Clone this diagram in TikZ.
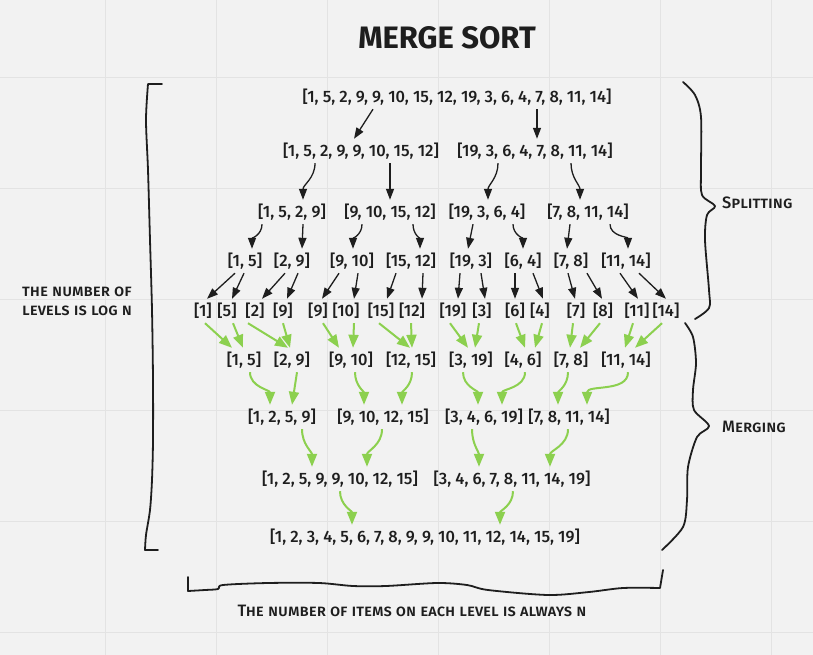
\documentclass[tikz,border=0pt]{standalone}
\usepackage{fontspec}
\setmainfont{Fira Sans}
\newfontfamily\listfont{Fira Sans Medium}
\usepackage{xcolor}
\usetikzlibrary{arrows.meta}

\definecolor{paper}{HTML}{F2F2F2}
\definecolor{gridc}{HTML}{E3E3E3}
\definecolor{ink}{HTML}{1E1E1E}
\definecolor{mgreen}{HTML}{8CD04F}

\begin{document}
\begin{tikzpicture}[x=1pt, y=1pt,
    lst/.style={font=\listfont\fontsize{16.5}{19}\selectfont, text=ink,
                inner sep=0pt, minimum height=24pt},
    lbl/.style={font=\listfont\fontsize{16.5}{19}\selectfont\scshape, text=ink, inner sep=0pt},
    arr/.style={-{Triangle[length=11pt,width=8pt]}, line width=1.3pt, draw=ink},
    garr/.style={-{Triangle[length=13pt,width=10pt]}, line width=2pt, draw=mgreen},
    brace/.style={line width=1.8pt, draw=ink, line cap=round, line join=round},
    gridln/.style={draw=gridc, line width=0.8pt},
  ]
    \useasboundingbox (0,0) rectangle (813,-655);
    \fill[paper] (0,0) rectangle (813,-655);
    \foreach \gx in {105,216,327,438,549,660,771}
      \draw[gridln] (\gx,0) -- (\gx,-655);
    \foreach \gy in {77,188,299,410,521,632}
      \draw[gridln] (0,-\gy) -- (813,-\gy);

    \node[font=\fontsize{31}{33}\selectfont\bfseries, text=ink] (title) at (447,-38) {MERGE SORT};

    % splitting
    \node[lst] (s0)  at (457,-97)  {[1, 5, 2, 9, 9, 10, 15, 12, 19, 3, 6, 4, 7, 8, 11, 14]};
    \node[lst] (s1a) at (361,-151) {[1, 5, 2, 9, 9, 10, 15, 12]};
    \node[lst] (s1b) at (535,-151) {[19, 3, 6, 4, 7, 8, 11, 14]};
    \node[lst] (s2a) at (292,-212) {[1, 5, 2, 9]};
    \node[lst] (s2b) at (390,-212) {[9, 10, 15, 12]};
    \node[lst] (s2c) at (487,-212) {[19, 3, 6, 4]};
    \node[lst] (s2d) at (588,-212) {[7, 8, 11, 14]};
    \node[lst] (s3a) at (245,-261) {[1, 5]};
    \node[lst] (s3b) at (292,-261) {[2, 9]};
    \node[lst] (s3c) at (352,-261) {[9, 10]};
    \node[lst] (s3d) at (411,-261) {[15, 12]};
    \node[lst] (s3e) at (471,-261) {[19, 3]};
    \node[lst] (s3f) at (523,-261) {[6, 4]};
    \node[lst] (s3g) at (571,-261) {[7, 8]};
    \node[lst] (s3h) at (626,-261) {[11, 14]};

    % single items
    \node[lst] (leaf1)  at (203,-311) {[1]};
    \node[lst] (leaf2)  at (227,-311) {[5]};
    \node[lst] (leaf3)  at (255,-311) {[2]};
    \node[lst] (leaf4)  at (283,-311) {[9]};
    \node[lst] (leaf5)  at (318,-311) {[9]};
    \node[lst] (leaf6)  at (346,-311) {[10]};
    \node[lst] (leaf7)  at (381,-311) {[15]};
    \node[lst] (leaf8)  at (412,-311) {[12]};
    \node[lst] (leaf9)  at (453,-311) {[19]};
    \node[lst] (leaf10) at (482,-311) {[3]};
    \node[lst] (leaf11) at (515,-311) {[6]};
    \node[lst] (leaf12) at (540,-311) {[4]};
    \node[lst] (leaf13) at (576,-311) {[7]};
    \node[lst] (leaf14) at (603,-311) {[8]};
    \node[lst] (leaf15) at (637,-311) {[11]};
    \node[lst] (leaf16) at (666,-311) {[14]};

    % merging
    \node[lst] (m1a) at (244,-360) {[1, 5]};
    \node[lst] (m1b) at (292,-360) {[2, 9]};
    \node[lst] (m1c) at (351,-360) {[9, 10]};
    \node[lst] (m1d) at (411,-360) {[12, 15]};
    \node[lst] (m1e) at (471,-360) {[3, 19]};
    \node[lst] (m1f) at (523,-360) {[4, 6]};
    \node[lst] (m1g) at (571,-360) {[7, 8]};
    \node[lst] (m1h) at (626,-360) {[11, 14]};
    \node[lst] (m2a) at (282,-417) {[1, 2, 5, 9]};
    \node[lst] (m2b) at (383,-417) {[9, 10, 12, 15]};
    \node[lst] (m2c) at (484,-417) {[3, 4, 6, 19]};
    \node[lst] (m2d) at (569,-417) {[7, 8, 11, 14]};
    \node[lst] (m3a) at (340,-479) {[1, 2, 5, 9, 9, 10, 12, 15]};
    \node[lst] (m3b) at (512,-479) {[3, 4, 6, 7, 8, 11, 14, 19]};
    \node[lst] (sorted) at (425,-537) {[1, 2, 3, 4, 5, 6, 7, 8, 9, 9, 10, 11, 12, 14, 15, 19]};

    % labels
    \node[lbl, anchor=west] (split) at (722,-203) {Splitting};
    \node[lbl, anchor=west] (merge) at (722,-427) {Merging};
    \node[lbl, anchor=west, align=left] (levels) at (22,-301) {the number of\\levels is log n};
    \node[lbl] (items) at (412,-611) {The number of items on each level is always n};

    % split arrows
    \draw[arr] ([xshift=-84]s0.south) -- ([xshift=-7]s1a.north);
    \draw[arr] ([xshift=80]s0.south) -- ([xshift=2]s1b.north);
    \draw[arr] ([xshift=-46]s1a.south) to[out=-90,in=90] ([xshift=11]s2a.north);
    \draw[arr] ([xshift=29]s1a.south) -- (s2b.north);
    \draw[arr] ([xshift=-37]s1b.south) to[out=-90,in=90] ([xshift=1]s2c.north);
    \draw[arr] ([xshift=36]s1b.south) to[out=-90,in=90] ([xshift=-8]s2d.north);
    \draw[arr] ([xshift=-30]s2a.south) to[out=-90,in=90] ([xshift=7]s3a.north);
    \draw[arr] ([xshift=11]s2a.south) -- ([xshift=10]s3b.north);
    \draw[arr] ([xshift=-28]s2b.south) to[out=-90,in=90] ([xshift=1]s3c.north);
    \draw[arr] ([xshift=23]s2b.south) to[out=-90,in=90] ([xshift=9]s3d.north);
    \draw[arr] ([xshift=-14]s2c.south) -- ([xshift=-3]s3e.north);
    \draw[arr] ([xshift=26]s2c.south) to[out=-90,in=90] (s3f.north);
    \draw[arr] ([xshift=-18]s2d.south) -- ([xshift=-4]s3g.north);
    \draw[arr] ([xshift=22]s2d.south) to[out=-90,in=90] ([xshift=2]s3h.north);
    \draw[arr] ([xshift=-10]s3a.south) -- ([xshift=4]leaf1.north);
    \draw[arr] ([xshift=-1]s3a.south) -- ([xshift=5]leaf2.north);
    \draw[arr] ([xshift=-7]s3b.south) -- ([xshift=7]leaf3.north);
    \draw[arr] ([xshift=6]s3b.south) -- ([xshift=4]leaf4.north);
    \draw[arr] ([xshift=-13]s3c.south) -- ([xshift=4]leaf5.north);
    \draw[arr] ([xshift=6]s3c.south) -- ([xshift=8]leaf6.north);
    \draw[arr] ([xshift=-15]s3d.south) -- ([xshift=6]leaf7.north);
    \draw[arr] ([xshift=12]s3d.south) -- ([xshift=10]leaf8.north);
    \draw[arr] ([xshift=-11]s3e.south) -- ([xshift=5]leaf9.north);
    \draw[arr] ([xshift=10]s3e.south) -- ([xshift=3]leaf10.north);
    \draw[arr] ([xshift=-8]s3f.south) -- (leaf11.north);
    \draw[arr] ([xshift=10]s3f.south) -- ([xshift=3]leaf12.north);
    \draw[arr] ([xshift=-3]s3g.south) -- ([xshift=-1]leaf13.north);
    \draw[arr] ([xshift=16]s3g.south) -- ([xshift=-1]leaf14.north);
    \draw[arr] ([xshift=-6]s3h.south) -- ([xshift=1]leaf15.north);
    \draw[arr] ([xshift=13]s3h.south) -- (leaf16.north);

    % merge arrows
    \draw[garr] ([xshift=2]leaf1.south) -- ([xshift=-12]m1a.north);
    \draw[garr] ([xshift=6]leaf2.south) -- ([xshift=-1]m1a.north);
    \draw[garr] ([xshift=-7]leaf3.south) -- ([xshift=-4]m1b.north);
    \draw[garr] (leaf4.south) -- ([xshift=-2]m1b.north);
    \draw[garr] ([xshift=5]leaf5.south) -- ([xshift=-12]m1c.north);
    \draw[garr] ([xshift=8]leaf6.south) -- ([xshift=2]m1c.north);
    \draw[garr] ([xshift=-2]leaf7.south) -- ([xshift=-1]m1d.north);
    \draw[garr] ([xshift=-1]leaf8.south) -- ([xshift=1]m1d.north);
    \draw[garr] ([xshift=-3]leaf9.south) -- ([xshift=-3]m1e.north);
    \draw[garr] ([xshift=-3]leaf10.south) -- ([xshift=4]m1e.north);
    \draw[garr] ([xshift=1]leaf11.south) -- ([xshift=2]m1f.north);
    \draw[garr] ([xshift=2]leaf12.south) -- ([xshift=12]m1f.north);
    \draw[garr] ([xshift=-3]leaf13.south) -- ([xshift=-1]m1g.north);
    \draw[garr] ([xshift=-3]leaf14.south) -- ([xshift=9]m1g.north);
    \draw[garr] ([xshift=-4]leaf15.south) -- ([xshift=-1]m1h.north);
    \draw[garr] ([xshift=-4]leaf16.south) -- ([xshift=9]m1h.north);
    \draw[garr] ([xshift=6]m1a.south) to[out=-90,in=90] ([xshift=-12]m2a.north);
    \draw[garr] ([xshift=5]m1b.south) -- ([xshift=10]m2a.north);
    \draw[garr] ([xshift=4]m1c.south) to[out=-90,in=90] ([xshift=-19]m2b.north);
    \draw[garr] ([xshift=1]m1d.south) to[out=-90,in=90] ([xshift=19]m2b.north);
    \draw[garr] ([xshift=-8]m1e.south) to[out=-90,in=90] ([xshift=-6]m2c.north);
    \draw[garr] ([xshift=2]m1f.south) to[out=-90,in=90] ([xshift=18]m2c.north);
    \draw[garr] ([xshift=-3]m1g.south) to[out=-90,in=90] ([xshift=-11]m2d.north);
    \draw[garr] ([xshift=2]m1h.south) to[out=-90,in=90] ([xshift=18]m2d.north);
    \draw[garr] ([xshift=20]m2a.south) to[out=-90,in=90] ([xshift=-28]m3a.north);
    \draw[garr] ([xshift=-1]m2b.south) to[out=-90,in=90] ([xshift=27]m3a.north);
    \draw[garr] ([xshift=-12]m2c.south) to[out=-90,in=90] ([xshift=-33]m3b.north);
    \draw[garr] ([xshift=-1]m2d.south) to[out=-90,in=90] ([xshift=38]m3b.north);
    \draw[garr] (m3a.south) to[out=-90,in=90] ([xshift=-73]sorted.north);
    \draw[garr] ([xshift=1]m3b.south) to[out=-90,in=90] ([xshift=75]sorted.north);

    % braces
    \draw[brace] (162,-84) -- plot[smooth] coordinates {(148,-84) (146,-120) (148,-170)
      (150,-240) (152,-310) (153,-380) (153,-440) (152,-480) (150,-510) (146,-535) (145,-550)}
      -- (158,-550);
    \draw[brace] plot[smooth] coordinates {(683,-82) (695,-95) (701,-117) (701,-170)
      (702,-195) (715,-206) (707,-215) (705,-240) (709,-290) (709,-308) (695,-319)};
    \draw[brace] plot[smooth] coordinates {(685,-323) (693,-337) (696,-363) (693,-390)
      (694,-410) (709,-426) (697,-437) (688,-467) (687,-500) (683,-527) (662,-550)};
    \draw[brace] (188,-577) -- plot[smooth] coordinates {(188,-591) (205,-590) (218,-589)
      (223,-585) (268,-583) (319,-583) (353,-586) (386,-586) (437,-583) (467,-585)
      (488,-590) (548,-595) (589,-592) (623,-588) (660,-588)} -- (663,-570);
  \end{tikzpicture}
\end{document}
